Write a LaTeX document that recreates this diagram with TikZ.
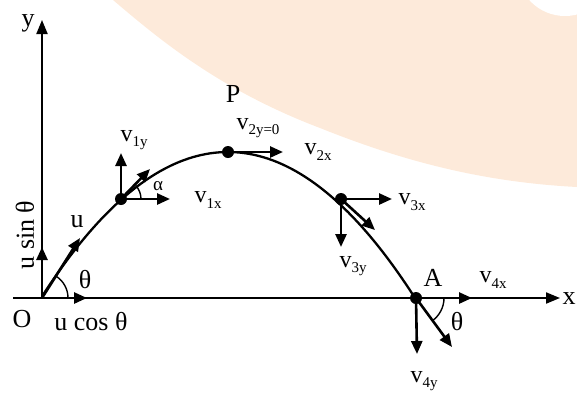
\documentclass[tikz,border=0pt]{standalone}
\usepackage{fontspec}
\setmainfont{Liberation Serif}
\usetikzlibrary{arrows.meta}
\definecolor{peach}{RGB}{253,234,218}
\newcommand\sbs[1]{\raisebox{-5.5pt}{\fontsize{15}{15}\selectfont #1}}
\begin{document}
\begin{tikzpicture}[x=1pt,y=-1pt,
  vec/.style={line width=2.6pt,-{Triangle[length=13pt,width=11pt]}},
  axis/.style={line width=2pt,-{Triangle[length=14pt,width=11pt]}},
  dot/.style={circle,fill=black,inner sep=0pt,minimum size=12pt},
  lbl/.style={inner sep=0pt,font=\fontsize{26}{26}\selectfont},
  vl/.style={inner sep=0pt,font=\fontsize{24}{24}\selectfont},
  sm/.style={inner sep=0pt,font=\fontsize{19}{19}\selectfont}]
\useasboundingbox (0,0) rectangle (577,394);
% watermark band
\fill[peach] (113,0) .. controls (160,40) and (220,90) .. (320,128)
  .. controls (400,160) and (480,182) .. (577,187) -- (577,0) -- cycle;
\fill[white] (565,-32) circle[radius=48pt];
% axes
\coordinate (O) at (42,298);
\coordinate (xs) at (13,298);
\coordinate (xe) at (560,298);
\coordinate (ye) at (42,20);
\draw[axis] (xs) -- (xe);
\draw[axis] (O) -- (ye);
% trajectory
\draw[line width=2.3pt] plot[domain=42:416,samples=90,smooth] (\x,{152+146*((\x-228)/187)^2});
% points
\node[dot] (p1) at (121,199) {};
\node[dot] (P) at (228,152) {};
\node[dot] (p3) at (341,199) {};
\node[dot] (A) at (416,298) {};
% vector tips
\coordinate (u) at (80,238);
\coordinate (usin) at (42,247);
\coordinate (ucos) at (87,298);
\coordinate (v1y) at (121,153);
\coordinate (v1x) at (170,199);
\coordinate (v1) at (150,169);
\coordinate (v2x) at (283,152);
\coordinate (v3x) at (392,199);
\coordinate (v3y) at (341,247);
\coordinate (v3) at (375,230);
\coordinate (v4x) at (472,298);
\coordinate (v4y) at (417,354);
\coordinate (v4) at (452,347);
\draw[vec] (O) -- (u);
\draw[vec] (O) -- (usin);
\draw[vec] (O) -- (ucos);
\draw[vec] (p1.center) -- (v1y);
\draw[vec] (p1.center) -- (v1x);
\draw[vec] (p1.center) -- (v1);
\draw[vec] (P.center) -- (v2x);
\draw[vec] (p3.center) -- (v3x);
\draw[vec] (p3.center) -- (v3y);
\draw[vec] (p3.center) -- (v3);
\draw[vec] (A.center) -- (v4x);
\draw[vec] (A.center) -- (v4y);
\draw[vec] (A.center) -- (v4);
% angle arcs
\draw[line width=1.4pt] (O) ++(26pt,0pt) arc[start angle=0,end angle=57,radius=26pt];
\draw[line width=1.4pt] (p1.center) ++(20pt,0pt) arc[start angle=0,end angle=42,radius=20pt];
\draw[line width=1.4pt] (A.center) ++(28pt,0pt) arc[start angle=0,end angle=-55,radius=28pt];
% labels
\node[lbl] (ly) at (28,23) {y};
\node[lbl] (lx) at (569,299) {x};
\node[lbl] (lO) at (22,319) {O};
\node[lbl] (lucos) at (91,322) {u cos θ};
\node[lbl,rotate=90] (lusin) at (25,235) {u sin θ};
\node[lbl] (lth1) at (85,280) {θ};
\node[lbl] (lu) at (77,222) {u};
\node[vl] (l1y) at (134,140) {v\sbs{1y}};
\node[sm] (lal) at (158,186) {α};
\node[vl] (l1x) at (208,200) {v\sbs{1x}};
\node[lbl] (lP) at (233,94) {P};
\node[vl] (l2y) at (258,128) {v\sbs{2y=0}};
\node[vl] (l2x) at (318,152) {v\sbs{2x}};
\node[vl] (l3x) at (412,202) {v\sbs{3x}};
\node[vl] (l3y) at (353,266) {v\sbs{3y}};
\node[lbl] (lA) at (433,278) {A};
\node[vl] (l4x) at (493,280) {v\sbs{4x}};
\node[lbl] (lth2) at (457,322) {θ};
\node[vl] (l4y) at (424,381) {v\sbs{4y}};
\end{tikzpicture}
\end{document}
